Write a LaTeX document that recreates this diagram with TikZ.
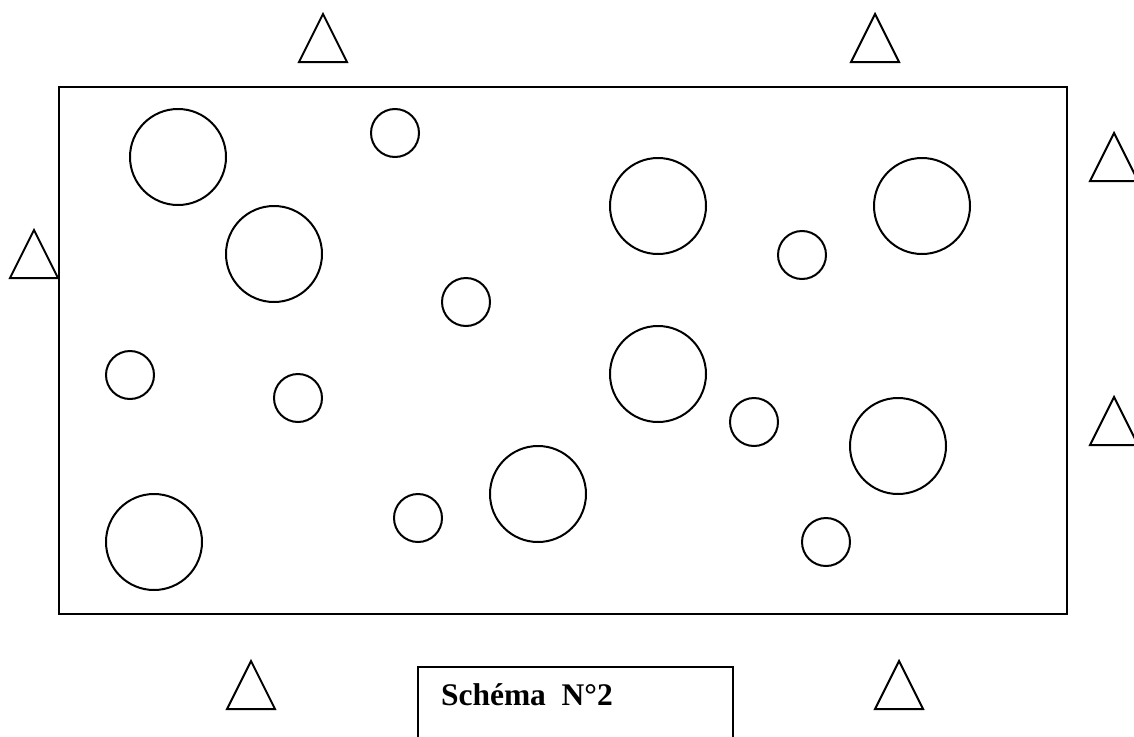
\documentclass[tikz,border=0pt]{standalone}
\usepackage{fontspec}
\setmainfont{Liberation Serif}
\begin{document}
\begin{tikzpicture}[x=1pt,y=-1pt,line width=2pt,
  tri/.style={draw,line join=miter},
  bubble/.style={draw}]
\useasboundingbox (0,0) rectangle (1134,736);
% main frame
\draw (59,87) rectangle (1067,614);
% triangles (apex x, apex y)
\foreach \ax/\ay in {323/14, 875/14, 34/230, 1114/133, 1114/397, 251/661, 899/661}
  \draw[tri] (\ax,\ay) -- (\ax+24,\ay+48) -- (\ax-24,\ay+48) -- cycle;
% big circles
\foreach \cx/\cy in {178/157, 274/254, 658/206, 922/206, 658/374, 898/446, 538/494, 154/542}
  \draw[bubble] (\cx,\cy) circle[radius=48];
% small circles
\foreach \cx/\cy in {395/133, 802/255, 466/302, 130/375, 298/398, 754/422, 418/518, 826/542}
  \draw[bubble] (\cx,\cy) circle[radius=24];
% label box
\draw (418,740) -- (418,667) -- (733,667) -- (733,740);
\node[anchor=base west,inner sep=0pt,font=\fontsize{31.5}{36}\selectfont\bfseries] (lbl) at (440,705) {Schéma\ \ N°2};
\end{tikzpicture}
\end{document}
